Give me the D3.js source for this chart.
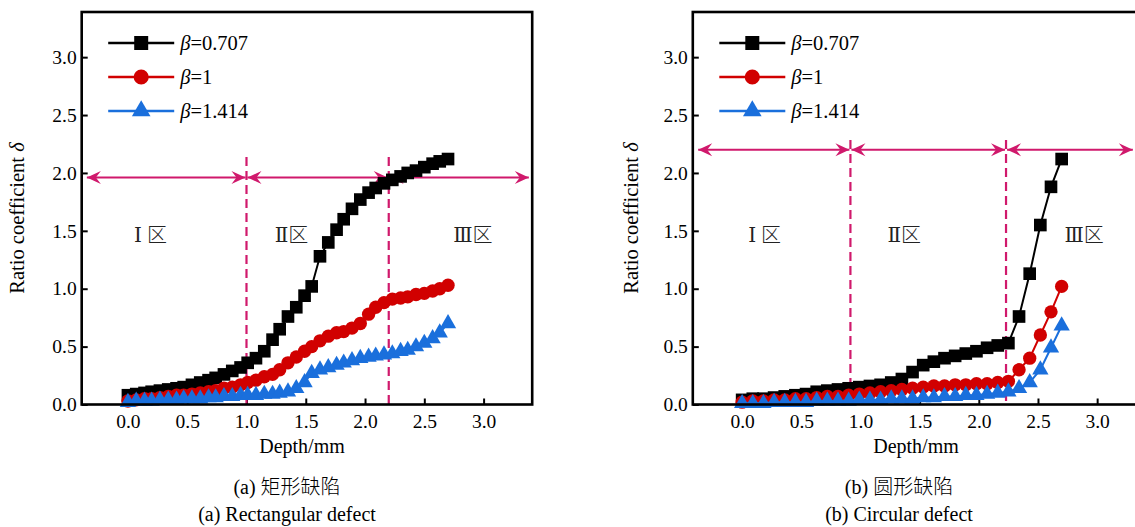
<!DOCTYPE html>
<html>
<head>
<meta charset="UTF-8">
<style>
  body { margin: 0; background: #fff; }
  svg { display: block; font-family: "Liberation Serif", "Times New Roman", serif; }
  .cjk { font-family: "Noto Sans CJK SC", sans-serif; font-weight: 300; }
</style>
<script src="https://cdn.jsdelivr.net/npm/d3@7"></script>
</head>
<body>
<svg id="chart" width="1135" height="527"></svg>
<script>
// (a) rectangular defect
var rectDepth = [0, 0.07, 0.14, 0.2, 0.27, 0.34, 0.41, 0.47, 0.54, 0.61, 0.68, 0.74, 0.81, 0.88, 0.95, 1.01,
  1.08, 1.15, 1.22, 1.28, 1.35, 1.42, 1.49, 1.55, 1.62, 1.69, 1.76, 1.82, 1.89, 1.96, 2.03, 2.09, 2.16,
  2.23, 2.3, 2.36, 2.43, 2.5, 2.57, 2.63, 2.7];
var rectB0707 = [0.08, 0.09, 0.10, 0.11, 0.12, 0.13, 0.14, 0.15, 0.17, 0.19, 0.21, 0.23, 0.26, 0.29, 0.32, 0.36,
  0.40, 0.46, 0.56, 0.65, 0.76, 0.84, 0.94, 1.02, 1.28, 1.40, 1.51, 1.60, 1.69, 1.77, 1.83, 1.87, 1.91,
  1.94, 1.97, 2.00, 2.02, 2.05, 2.08, 2.10, 2.12];
var rectB1 = [0.03, 0.04, 0.05, 0.05, 0.06, 0.07, 0.08, 0.08, 0.09, 0.10, 0.11, 0.12, 0.14, 0.15, 0.17, 0.19,
  0.21, 0.24, 0.26, 0.30, 0.36, 0.41, 0.46, 0.50, 0.55, 0.59, 0.62, 0.63, 0.66, 0.70, 0.78, 0.84, 0.88,
  0.91, 0.92, 0.93, 0.95, 0.96, 0.98, 1.00, 1.03];
var rectB1414 = [0.02, 0.03, 0.03, 0.03, 0.04, 0.04, 0.04, 0.05, 0.05, 0.05, 0.06, 0.06, 0.07, 0.07, 0.08, 0.08,
  0.08, 0.09, 0.09, 0.10, 0.11, 0.14, 0.19, 0.27, 0.30, 0.32, 0.34, 0.36, 0.38, 0.40, 0.41, 0.42, 0.43,
  0.44, 0.46, 0.47, 0.50, 0.53, 0.57, 0.62, 0.70];

// (b) circular defect
var circDepth = [0, 0.09, 0.18, 0.27, 0.36, 0.45, 0.54, 0.63, 0.72, 0.81, 0.9, 0.99, 1.08, 1.17, 1.26, 1.35,
  1.44, 1.53, 1.62, 1.71, 1.8, 1.89, 1.98, 2.07, 2.16, 2.25, 2.34, 2.43, 2.52, 2.61, 2.7];
var circB0707 = [0.04, 0.05, 0.05, 0.06, 0.07, 0.08, 0.09, 0.11, 0.12, 0.13, 0.14, 0.15, 0.16, 0.17, 0.19, 0.22,
  0.28, 0.34, 0.37, 0.40, 0.42, 0.44, 0.46, 0.49, 0.51, 0.53, 0.76, 1.13, 1.55, 1.88, 2.12];
var circB1 = [0.02, 0.03, 0.03, 0.04, 0.04, 0.05, 0.05, 0.06, 0.07, 0.07, 0.08, 0.09, 0.10, 0.11, 0.12, 0.13,
  0.14, 0.15, 0.16, 0.16, 0.17, 0.17, 0.18, 0.18, 0.19, 0.20, 0.30, 0.40, 0.60, 0.80, 1.02];
var circB1414 = [0.01, 0.01, 0.01, 0.02, 0.02, 0.02, 0.02, 0.03, 0.03, 0.03, 0.03, 0.04, 0.04, 0.04, 0.05, 0.05,
  0.05, 0.06, 0.06, 0.07, 0.07, 0.08, 0.08, 0.09, 0.10, 0.11, 0.14, 0.19, 0.30, 0.49, 0.68];

var betaLabels = ["0.707", "1", "1.414"];
var xTicks = [0, 0.5, 1, 1.5, 2, 2.5, 3];
var yTicks = [0, 0.5, 1, 1.5, 2, 2.5, 3];
var zoneLabels = ["Ⅰ 区", "Ⅱ区", "Ⅲ区"];
// zone borders (depth) and height of the double arrows
var rectZones = [-0.355, 1.0, 2.2, 3.39], rectArrowY = 1.96;
var circZones = [-0.38, 0.915, 2.23, 3.31], circArrowY = 2.2;

var colors = ["#000000", "#d10000", "#1a6fdc"];
var shapes = [d3.symbolSquare, d3.symbolCircle, d3.symbolTriangle];
var pink = "#d0196c";

var svg = d3.select("#chart");

var defs = svg.append("defs");
defs.append("marker")
  .attr("id", "head")
  .attr("viewBox", "-15 -8 16 16")
  .attr("refX", 0).attr("refY", 0)
  .attr("markerWidth", 16).attr("markerHeight", 16)
  .attr("markerUnits", "userSpaceOnUse")
  .attr("orient", "auto-start-reverse")
  .append("path")
  .attr("d", "M0,0 L-14,-6.5 L-9,0 L-14,6.5 Z")
  .attr("fill", pink);

var panels = [
  { left: 81.7, xDomain: [-0.39, 3.41], depth: rectDepth, series: [rectB0707, rectB1, rectB1414],
    zones: rectZones, arrowY: rectArrowY, dashTop: 157, zoneX: [0.19, 1.38, 2.91],
    xLabelX: 302, capX: 287, cap1: "(a) ", cap1cn: "矩形缺陷", cap2: "(a) Rectangular defect", yLabelX: 17 },
  { left: 692.8, xDomain: [-0.417, 3.39], depth: circDepth, series: [circB0707, circB1, circB1414],
    zones: circZones, arrowY: circArrowY, dashTop: 140, zoneX: [0.19, 1.37, 2.89],
    xLabelX: 916, capX: 899, cap1: "(b) ", cap1cn: "圆形缺陷", cap2: "(b) Circular defect", yLabelX: 631 }
];

var plotTop = 12, plotBottom = 404.5, plotWidth = 450.5;

panels.forEach(function (p) {
  var x = d3.scaleLinear().domain(p.xDomain).range([p.left, p.left + plotWidth]);
  var y = d3.scaleLinear().domain([0, 3.39]).range([plotBottom, plotTop]);
  var g = svg.append("g");

  // axes with inward ticks
  var xa = g.append("g").attr("transform", "translate(0," + plotBottom + ")")
    .call(d3.axisBottom(x).tickValues(xTicks).tickSizeInner(-6).tickSizeOuter(0)
      .tickPadding(10).tickFormat(d3.format(".1f")));
  var ya = g.append("g").attr("transform", "translate(" + p.left + ",0)")
    .call(d3.axisLeft(y).tickValues(yTicks).tickSizeInner(-6).tickSizeOuter(0)
      .tickPadding(5).tickFormat(d3.format(".1f")));
  [xa, ya].forEach(function (a) {
    a.select(".domain").remove();
    a.selectAll(".tick line").attr("stroke", "#000").attr("stroke-width", 2);
    a.selectAll(".tick text").attr("font-size", 19.5).attr("fill", "#000")
      .attr("font-family", "Liberation Serif");
  });

  // zone arrows and dashed borders
  for (var i = 0; i < 3; i++) {
    g.append("line")
      .attr("x1", x(p.zones[i]) + 1).attr("x2", x(p.zones[i + 1]) - 1)
      .attr("y1", y(p.arrowY)).attr("y2", y(p.arrowY))
      .attr("stroke", pink).attr("stroke-width", 2)
      .attr("marker-start", "url(#head)").attr("marker-end", "url(#head)");
  }
  [p.zones[1], p.zones[2]].forEach(function (z) {
    g.append("line")
      .attr("x1", x(z)).attr("x2", x(z))
      .attr("y1", p.dashTop).attr("y2", plotBottom)
      .attr("stroke", pink).attr("stroke-width", 2.2)
      .attr("stroke-dasharray", "9,5");
  });

  // zone labels
  zoneLabels.forEach(function (t, i) {
    var parts = t.split("区");
    var tx = g.append("text")
      .attr("x", x(p.zoneX[i])).attr("y", y(1.46) + 7)
      .attr("text-anchor", "middle").attr("font-size", 20).attr("fill", "#222");
    tx.append("tspan").attr("font-family", "Liberation Serif, DejaVu Serif").text(parts[0]);
    tx.append("tspan").attr("class", "cjk").text("区");
  });

  // series: line then markers
  p.series.forEach(function (vals, k) {
    var pts = p.depth.map(function (d, i) { return [d, vals[i]]; });
    g.append("path")
      .datum(pts)
      .attr("fill", "none").attr("stroke", colors[k]).attr("stroke-width", 2)
      .attr("d", d3.line().x(function (d) { return x(d[0]); }).y(function (d) { return y(d[1]); }));
    var sz = [160, 140, 115][k];
    g.selectAll(null).data(pts).enter().append("path")
      .attr("transform", function (d) { return "translate(" + x(d[0]) + "," + y(d[1]) + ")"; })
      .attr("d", d3.symbol().type(shapes[k]).size(sz))
      .attr("fill", colors[k]);
  });

  // frame
  g.append("rect")
    .attr("x", p.left).attr("y", plotTop)
    .attr("width", plotWidth).attr("height", plotBottom - plotTop)
    .attr("fill", "none").attr("stroke", "#000").attr("stroke-width", 2.6);

  // legend
  betaLabels.forEach(function (b, k) {
    var ly = [43, 77, 111][k];
    var lx = p.left + 26.5;
    g.append("line").attr("x1", lx).attr("x2", lx + 66).attr("y1", ly).attr("y2", ly)
      .attr("stroke", colors[k]).attr("stroke-width", 2.6);
    g.append("path").attr("transform", "translate(" + (lx + 33) + "," + ly + ")")
      .attr("d", d3.symbol().type(shapes[k]).size([196, 180, 150][k]))
      .attr("fill", colors[k]);
    var t = g.append("text").attr("x", lx + 72).attr("y", ly + 7).attr("font-size", 20.5);
    t.append("tspan").attr("font-style", "italic").text("β");
    t.append("tspan").text("=" + b);
  });

  // axis titles
  g.append("text").attr("x", p.xLabelX).attr("y", 453)
    .attr("text-anchor", "middle").attr("font-size", 20).text("Depth/mm");
  var yl = g.append("text")
    .attr("transform", "translate(" + p.yLabelX + ",218) rotate(-90)")
    .attr("dy", "0.35em").attr("text-anchor", "middle").attr("font-size", 20.5);
  yl.append("tspan").text("Ratio coefficient ");
  yl.append("tspan").attr("font-style", "italic").text("δ");

  // captions
  var c1 = g.append("text").attr("x", p.capX).attr("y", 494)
    .attr("text-anchor", "middle").attr("font-size", 20);
  c1.append("tspan").text(p.cap1);
  c1.append("tspan").attr("class", "cjk").text(p.cap1cn);
  g.append("text").attr("x", p.capX).attr("y", 521)
    .attr("text-anchor", "middle").attr("font-size", 20).text(p.cap2);
});
</script>
</body>
</html>
